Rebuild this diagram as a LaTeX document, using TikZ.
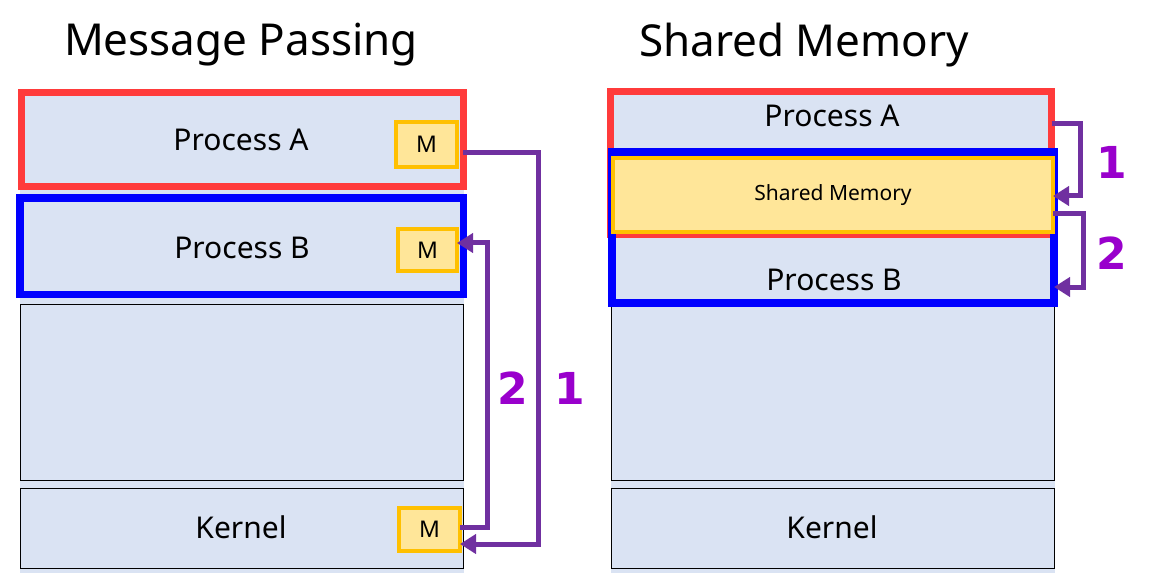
\documentclass[tikz,border=0pt]{standalone}
\usepackage{fontspec}
\setmainfont{Noto Sans}
\newfontfamily\numfont{DejaVu Sans}
\usetikzlibrary{arrows.meta,calc}
\definecolor{lb}{HTML}{DAE3F3}
\definecolor{myred}{HTML}{FF3B3B}
\definecolor{myblue}{HTML}{0000FF}
\definecolor{ylw}{HTML}{FFE699}
\definecolor{org}{HTML}{FFC000}
\definecolor{arr}{HTML}{7030A0}
\definecolor{lbl}{HTML}{9900CC}
\tikzset{
  box/.style={rectangle, inner sep=0pt, outer sep=0pt, anchor=north west},
  redbox/.style={box, draw=myred, line width=7pt},
  bluebox/.style={box, draw=myblue, line width=7.5pt},
  thinbox/.style={box, draw=black, line width=1pt, fill=lb},
  mbox/.style={box, draw=org, line width=4pt, fill=ylw, font=\fontsize{23}{25}\selectfont},
  title/.style={font=\fontsize{44}{48}\selectfont},
  ptext/.style={font=\fontsize{30}{34}\selectfont},
  num/.style={font=\numfont\bfseries\fontsize{44}{48}\selectfont, text=lbl},
  conn/.style={draw=arr, line width=5pt, line cap=butt},
  tip/.style={-{Triangle[length=16pt,width=19pt]}},
}
\begin{document}
\begin{tikzpicture}[x=1pt,y=-1pt]
\useasboundingbox (0,0) rectangle (1150,585);
% ---------------- left: message passing
\node[title] (t1) at (241,45) {Message Passing};
\fill[lb] (20,92) rectangle (464,573);
\node[redbox, fill=lb, minimum width=442pt, minimum height=93.5pt] (pa) at (21,93) {};
\node[ptext] (pat) at (241,140) {Process A};
\node[bluebox, fill=lb, minimum width=443.5pt, minimum height=96.5pt] (pb) at (20,198) {};
\node[ptext] (pbt) at (242,248) {Process B};
\node[thinbox, minimum width=443pt, minimum height=176pt] (emp) at (20.5,304) {};
\node[thinbox, minimum width=443pt, minimum height=80pt] (ker) at (20.5,488) {};
\node[ptext] (kt) at (241,527) {Kernel};
\node[mbox, minimum width=61pt, minimum height=45pt] (ma) at (396,122) {M};
\node[mbox, minimum width=59pt, minimum height=42pt] (mb) at (398,229) {M};
\node[mbox, minimum width=61pt, minimum height=43pt] (mk) at (399,508) {M};
\coordinate (c1) at (538,153);
\coordinate (c1b) at (538,544);
\coordinate (c2) at (487,527);
\coordinate (c2b) at (487,243);
\draw[conn, tip] (c1 -| pa.east) -- (c1) -- (c1b) -- (c1b -| mk.east);
\draw[conn, tip] (c2 -| mk.east) -- (c2) -- (c2b) -- (c2b -| mb.east);
\node[num] (n2l) at (513,388) {2};
\node[num] (n1l) at (570,388) {1};
% ---------------- right: shared memory
\node[title] (t2) at (804,45) {Shared Memory};
\fill[lb] (611,92) rectangle (1055,573);
\node[thinbox, minimum width=443pt, minimum height=174pt] (emp2) at (611.5,306) {};
\node[thinbox, minimum width=443pt, minimum height=80pt] (ker2) at (611.5,488) {};
\node[ptext] (kt2) at (832,527) {Kernel};
\node[redbox, minimum width=441pt, minimum height=143pt] (pa2) at (610.5,92) {};
\node[bluebox, minimum width=442pt, minimum height=151pt] (pb2) at (612,152) {};
\node[box, draw=org, line width=4pt, fill=ylw, minimum width=440pt, minimum height=74pt,
      font=\fontsize{21}{24}\selectfont] (sm) at (613,158) {Shared Memory};
\node[ptext] (pat2) at (832,116) {Process A};
\node[ptext] (pbt2) at (834,280) {Process B};
\coordinate (d1) at (1080,124);
\coordinate (d1b) at (1080,196);
\coordinate (d2) at (1083,214);
\coordinate (d2b) at (1083,287);
\draw[conn, tip] (d1 -| pa2.east) -- (d1) -- (d1b) -- (d1b -| sm.east);
\draw[conn, tip] (d2 -| sm.east) -- (d2) -- (d2b) -- (d2b -| pb2.east);
\node[num] (n1r) at (1112,162) {1};
\node[num] (n2r) at (1112,253) {2};
\end{tikzpicture}
\end{document}
